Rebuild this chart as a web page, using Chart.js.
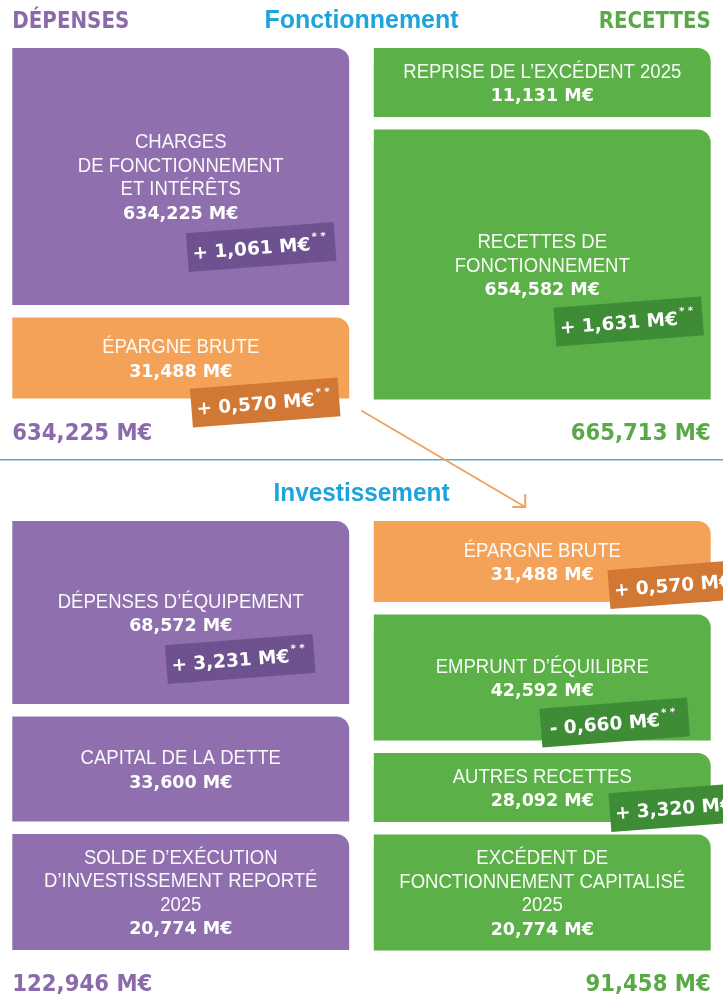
<!DOCTYPE html>
<html lang="fr">
<head>
<meta charset="utf-8">
<title>Budget – Fonctionnement et Investissement</title>
<script src="https://cdn.jsdelivr.net/npm/chart.js@4/dist/chart.umd.min.js"></script>
<style>
  html, body { margin: 0; padding: 0; background: #fff; }
  #wrap { width: 723px; height: 995px; }
</style>
</head>
<body>
<div id="wrap"><canvas id="budget" width="723" height="995"></canvas></div>
<script>
// montants en M€
const columns = ['DÉPENSES', 'RECETTES'];

const fonctDepLabels = [['CHARGES', 'DE FONCTIONNEMENT', 'ET INTÉRÊTS'], ['ÉPARGNE BRUTE']];
const fonctDepValues = [634.225, 31.488];
const fonctDepDeltas = [1.061, 0.570];

const fonctRecLabels = [['REPRISE DE L’EXCÉDENT 2025'], ['RECETTES DE', 'FONCTIONNEMENT']];
const fonctRecValues = [11.131, 654.582];
const fonctRecDeltas = [null, 1.631];

const invDepLabels = [['DÉPENSES D’ÉQUIPEMENT'], ['CAPITAL DE LA DETTE'], ['SOLDE D’EXÉCUTION', 'D’INVESTISSEMENT REPORTÉ', '2025']];
const invDepValues = [68.572, 33.600, 20.774];
const invDepDeltas = [3.231, null, null];

const invRecLabels = [['ÉPARGNE BRUTE'], ['EMPRUNT D’ÉQUILIBRE'], ['AUTRES RECETTES'], ['EXCÉDENT DE', 'FONCTIONNEMENT CAPITALISÉ', '2025']];
const invRecValues = [31.488, 42.592, 28.092, 20.774];
const invRecDeltas = [0.570, -0.660, 3.320, null];

const fonctTotals = [634.225, 665.713];
const invTotals = [122.946, 91.458];

// mise en page (hauteurs de blocs en unités de l'axe y, pas proportionnelles aux montants)
const PURPLE = '#8f6fae', GREEN = '#5bb047', ORANGE = '#f3a257';
const BADGE = { [PURPLE]: '#6d528f', [GREEN]: '#3f8c36', [ORANGE]: '#d07834' };
const HEAD = ['#8b6aab', '#5aa948'];
const BLUE = '#1fa3dd';
const GAP = 12.5;

const sections = [
  { title: 'Fonctionnement', top: 48, totals: fonctTotals },
  { title: 'Investissement', top: 521, totals: invTotals },
];
const groups = [
  { section: 0, col: 0, labels: fonctDepLabels, values: fonctDepValues, deltas: fonctDepDeltas,
    colors: [PURPLE, ORANGE], heights: [257, 81], badges: [[-88, -58], [-84, 4]] },
  { section: 0, col: 1, labels: fonctRecLabels, values: fonctRecValues, deltas: fonctRecDeltas,
    colors: [GREEN, GREEN], heights: [69, 270], badges: [null, [-82, -78]] },
  { section: 1, col: 0, labels: invDepLabels, values: invDepValues, deltas: invDepDeltas,
    colors: [PURPLE, PURPLE, PURPLE], heights: [183, 105, 116], badges: [[-109, -45], null, null] },
  { section: 1, col: 1, labels: invRecLabels, values: invRecValues, deltas: invRecDeltas,
    colors: [ORANGE, GREEN, GREEN, GREEN], heights: [81, 126, 69, 116], badges: [[-28, -18], [-96, -18], [-27, -15]] },
];

const fmt = v => v.toFixed(3).replace('.', ',') + ' M€';
const fmtDelta = d => (d < 0 ? '- ' : '+ ') + Math.abs(d).toFixed(3).replace('.', ',') + ' M€';

// blocs flottants [début, fin] empilés dans chaque colonne
const datasets = [];
groups.forEach(g => {
  let y = sections[g.section].top;
  g.values.forEach((v, i) => {
    const span = [y, y + g.heights[i]];
    y += g.heights[i] + GAP;
    const data = [null, null];
    data[g.col] = span;
    datasets.push({
      data, grouped: false, backgroundColor: g.colors[i], borderWidth: 0, borderSkipped: false,
      borderRadius: { topLeft: 0, topRight: 13, bottomLeft: 0, bottomRight: 0 },
      barPercentage: 0.932, categoryPercentage: 1,
      meta: { group: g, idx: i },
    });
  });
});

function txt(ctx, str, x, y, font, color, align = 'center', width = null, squeeze = 1) {
  ctx.save();
  ctx.font = font;
  ctx.fillStyle = color;
  ctx.textBaseline = 'alphabetic';
  const w = ctx.measureText(str).width;
  const k = width ? width / w : squeeze;
  ctx.translate(x, y);
  ctx.scale(k, 1);
  ctx.textAlign = align;
  ctx.fillText(str, 0, 0);
  ctx.restore();
}

function badge(ctx, cx, cy, str, color) {
  ctx.save();
  ctx.translate(cx, cy);
  ctx.rotate(-4.4 * Math.PI / 180);
  ctx.fillStyle = color;
  ctx.fillRect(-74, -19.5, 148, 39);
  ctx.font = 'bold 18.5px "DejaVu Sans"';
  const w = ctx.measureText(str).width;
  ctx.font = 'bold 10px "DejaVu Sans"';
  const ws = ctx.measureText('* *').width;
  const x0 = -(w + ws + 2) / 2 - 2;
  ctx.fillStyle = '#fff';
  ctx.textAlign = 'left';
  ctx.fillText('* *', x0 + w + 2, -3);
  ctx.font = 'bold 18.5px "DejaVu Sans"';
  ctx.fillText(str, x0, 7);
  ctx.restore();
}

const blockText = {
  id: 'blockText',
  afterDatasetsDraw(chart) {
    const ctx = chart.ctx;
    const lh = 23.5;
    chart.data.datasets.forEach((ds, di) => {
      const { group: g, idx } = ds.meta;
      const el = chart.getDatasetMeta(di).data[g.col];
      const top = Math.min(el.y, el.base), bottom = Math.max(el.y, el.base);
      const right = el.x + el.width / 2;
      const lines = g.labels[idx];
      const n = lines.length + 1;
      const mid = (top + bottom) / 2;
      lines.forEach((l, li) => {
        const cy = mid + (li - (n - 1) / 2) * lh;
        txt(ctx, l, el.x, cy + 7, '19.5px "Liberation Sans"', 'rgba(255,255,255,0.95)', 'center', null, 0.95);
      });
      txt(ctx, fmt(g.values[idx]), el.x, mid + ((n - 1) / 2) * lh + 7, 'bold 17.5px "DejaVu Sans"', '#fff');
      const d = g.deltas[idx];
      if (d != null) {
        const [dx, dy] = g.badges[idx];
        badge(ctx, right + dx, bottom + dy, fmtDelta(d), BADGE[g.colors[idx]]);
      }
    });
  },
  afterDraw(chart) {
    const ctx = chart.ctx;
    const area = chart.chartArea;
    const els = chart.data.datasets.map((ds, di) => chart.getDatasetMeta(di).data[ds.meta.group.col]);
    const edge = (col, sec, pick) => {
      const list = els.filter((e, i) => chart.data.datasets[i].meta.group.col === col && chart.data.datasets[i].meta.group.section === sec);
      return pick(list);
    };
    const mid = (area.left + area.right) / 2;
    // en-têtes
    const L0 = edge(0, 0, l => l[0]), R0 = edge(1, 0, l => l[0]);
    txt(ctx, columns[0], L0.x - L0.width / 2, 28, 'bold 23px "DejaVu Sans"', HEAD[0], 'left', 117);
    txt(ctx, columns[1], R0.x + R0.width / 2, 28, 'bold 23px "DejaVu Sans"', HEAD[1], 'right', 112);
    sections.forEach((s, si) => {
      const first = edge(0, si, l => l[0]);
      const top = Math.min(first.y, first.base);
      const tw = si === 0 ? 194 : 176;
      txt(ctx, s.title, mid, top - 20, 'bold 25px "Liberation Sans"', BLUE, 'center', tw);
      const lastL = edge(0, si, l => l[l.length - 1]), lastR = edge(1, si, l => l[l.length - 1]);
      const bot = Math.max(lastL.y, lastL.base);
      const s0 = fmt(s.totals[0]), s1 = fmt(s.totals[1]);
      ctx.save(); ctx.font = 'bold 23px "DejaVu Sans"';
      const k = 140 / ctx.measureText('634,225 M€').width;
      const w0 = ctx.measureText(s0).width * k, w1 = ctx.measureText(s1).width * k;
      ctx.restore();
      txt(ctx, s0, lastL.x - lastL.width / 2, bot + 41, 'bold 23px "DejaVu Sans"', HEAD[0], 'left', w0);
      txt(ctx, s1, lastR.x + lastR.width / 2, bot + 41, 'bold 23px "DejaVu Sans"', HEAD[1], 'right', w1);
    });
    // séparateur
    const endF = edge(0, 0, l => l[l.length - 1]);
    const sepY = (Math.max(endF.base, endF.y) + sections[1].top) / 2;
    ctx.save();
    ctx.strokeStyle = '#5aaad8';
    ctx.lineWidth = 1.5;
    ctx.beginPath(); ctx.moveTo(area.left, sepY); ctx.lineTo(area.right, sepY); ctx.stroke();
    // flèche épargne brute -> investissement
    const to = edge(1, 1, l => l[0]);
    const x1 = endF.x + endF.width / 2 + 12, y1 = Math.max(endF.y, endF.base) + 12;
    const x2 = to.x - 17, y2 = Math.min(to.y, to.base) - 14;
    ctx.strokeStyle = '#eea35e';
    ctx.lineWidth = 2;
    ctx.beginPath(); ctx.moveTo(x1, y1); ctx.lineTo(x2, y2); ctx.stroke();
    ctx.beginPath();
    ctx.moveTo(x2 - 13, y2); ctx.lineTo(x2, y2); ctx.lineTo(x2, y2 - 13);
    ctx.stroke();
    ctx.restore();
  },
};

new Chart(document.getElementById('budget'), {
  type: 'bar',
  data: { labels: columns, datasets },
  options: {
    responsive: false,
    animation: false,
    events: [],
    layout: { padding: 0 },
    plugins: { legend: { display: false }, tooltip: { enabled: false } },
    scales: {
      x: { display: false, offset: true },
      y: { display: false, min: 0, max: 995, reverse: true },
    },
  },
  plugins: [blockText],
});
</script>
</body>
</html>
